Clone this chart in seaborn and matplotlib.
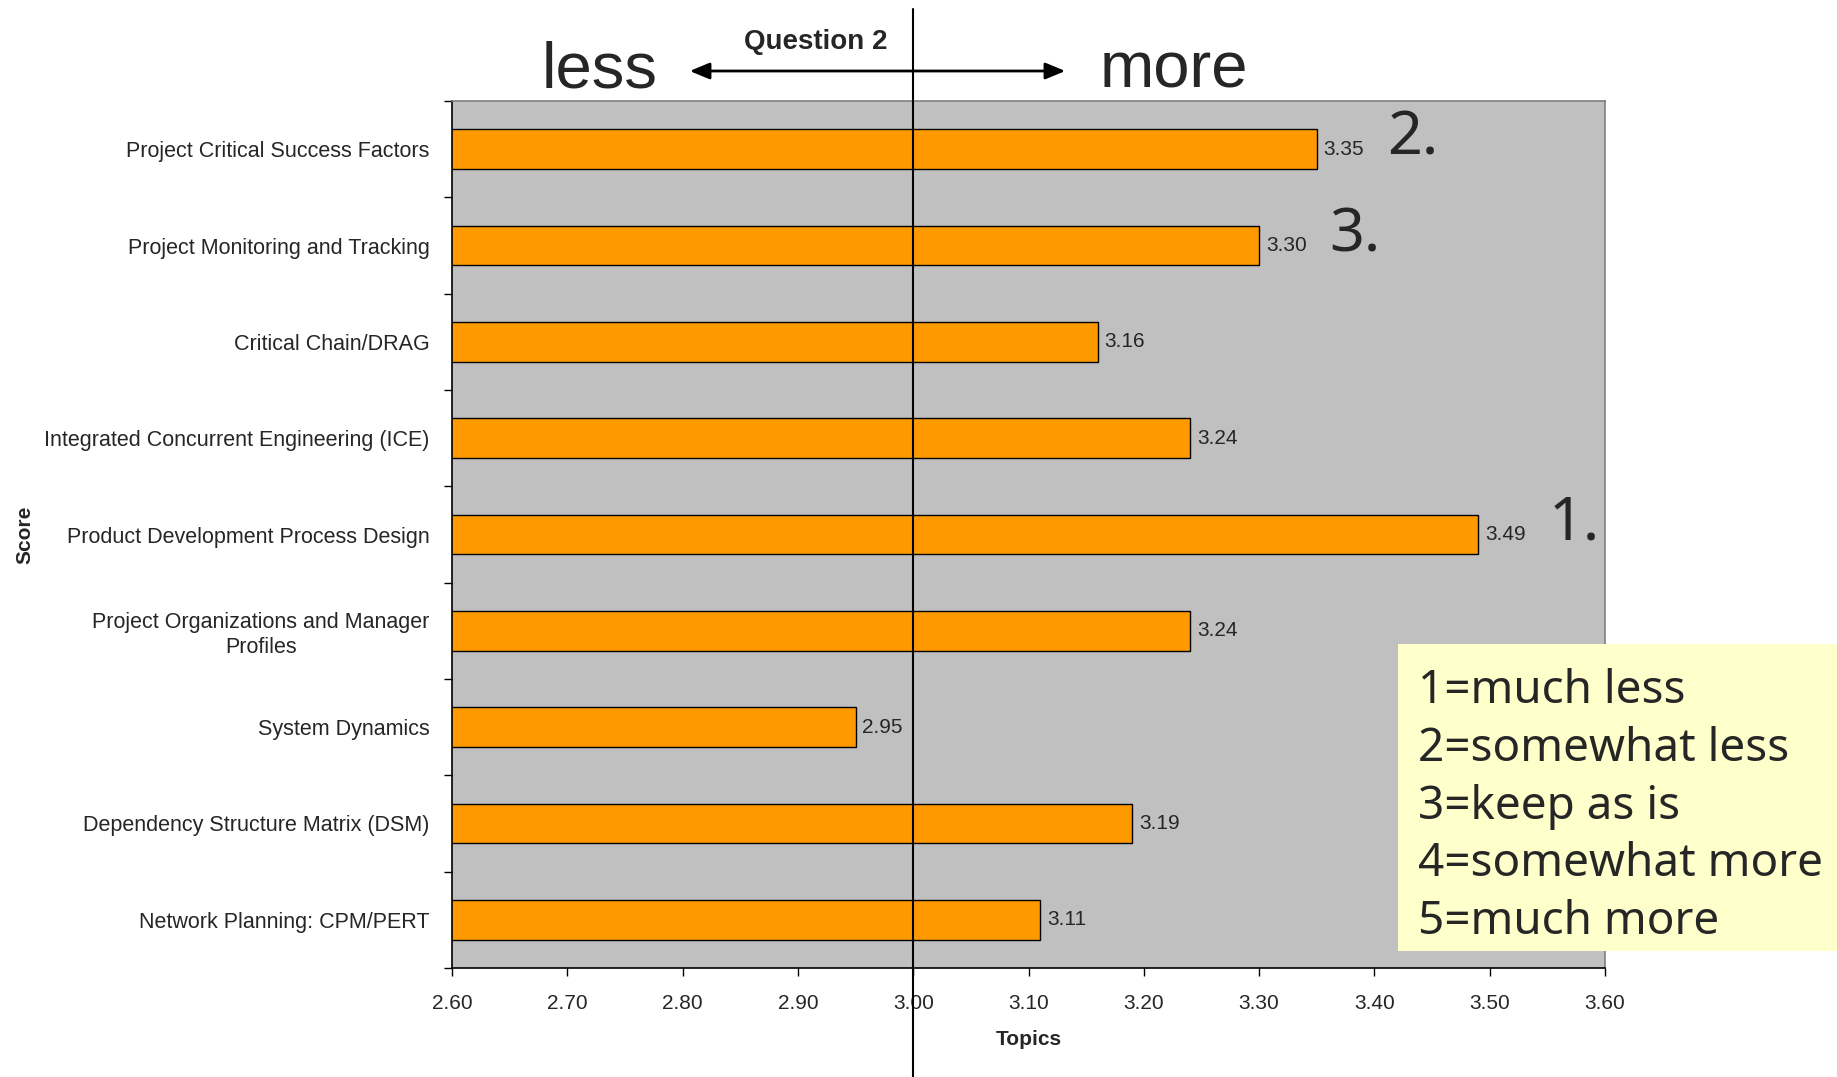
import matplotlib
matplotlib.use("Agg")
import matplotlib.pyplot as plt
from matplotlib.patches import Rectangle, FancyArrowPatch
from matplotlib.ticker import FixedLocator
import seaborn as sns

# Survey results: average score per topic (Question 2)
topics = [
    "Project Critical Success Factors",
    "Project Monitoring and Tracking",
    "Critical Chain/DRAG",
    "Integrated Concurrent Engineering (ICE)",
    "Product Development Process Design",
    "Project Organizations and Manager\nProfiles",
    "System Dynamics",
    "Dependency Structure Matrix (DSM)",
    "Network Planning: CPM/PERT",
]
scores = [3.35, 3.30, 3.16, 3.24, 3.49, 3.24, 2.95, 3.19, 3.11]
ranks = ["2.", "3.", "", "", "1.", "", "", "", ""]
x_ticks = [2.60, 2.70, 2.80, 2.90, 3.00, 3.10, 3.20, 3.30, 3.40, 3.50, 3.60]
scale_lines = ["1=much less", "2=somewhat less", "3=keep as is",
               "4=somewhat more", "5=much more"]

sns.set_style("ticks")
plt.rcParams["font.family"] = ["Liberation Sans", "DejaVu Sans"]

W, H = 1837, 1077
fig = plt.figure(figsize=(W / 100, H / 100), dpi=100)
ax = fig.add_axes([452 / W, 1 - 968 / H, (1605 - 452) / W, (968 - 101) / H])
ax.set_facecolor("#C0C0C0")

sns.barplot(x=scores, y=topics, orient="h", color="#FF9900", saturation=1,
            edgecolor="black", linewidth=1, width=0.41, ax=ax)

ax.set_xlim(x_ticks[0], x_ticks[-1])
ax.set_ylim(len(topics) - 0.5, -0.5)
ax.set_xticks(x_ticks)
ax.set_xticklabels([f"{t:.2f}" for t in x_ticks], fontsize=15)
ax.tick_params(axis="x", length=6, width=1, color="black", pad=13, direction="out")

# category labels without tick marks, boundary ticks between categories
ax.tick_params(axis="y", which="major", length=0, pad=16, labelsize=15.5)
ax.yaxis.set_minor_locator(FixedLocator([i - 0.5 for i in range(len(topics) + 1)]))
ax.tick_params(axis="y", which="minor", length=6, width=1, color="black", direction="out")
for lbl in ax.get_yticklabels():
    lbl.set_multialignment("center")

for side in ["left", "bottom"]:
    ax.spines[side].set_color("black")
    ax.spines[side].set_linewidth(1.2)
for side in ["top", "right"]:
    ax.spines[side].set_visible(True)
    ax.spines[side].set_color("#808080")
    ax.spines[side].set_linewidth(1.2)

ax.set_xlabel("Topics", fontsize=15, fontweight="bold")
ax.set_ylabel("Score", fontsize=15, fontweight="bold")
ax.xaxis.set_label_coords(0.5, -0.071)
ax.yaxis.set_label_coords(-0.362, 0.5)

# value labels at the bar ends
ax.bar_label(ax.containers[0], fmt="%.2f", padding=5, fontsize=15)

# ranking marks next to the top three topics
for i, (val, rk) in enumerate(zip(scores, ranks)):
    if rk:
        ax.annotate(rk, xy=(val, i), xytext=(70, 10), textcoords="offset pixels",
                    ha="left", va="center", fontsize=44,
                    family=["Noto Sans", "DejaVu Sans"])

# neutral reference line at 3.00, running over the whole height
ax.axvline(3.0, ymin=-0.126, ymax=1.106, color="black", lw=1.5,
           clip_on=False, zorder=10)

# header: less <-> more
narrow = ["Liberation Sans Narrow", "Liberation Sans", "DejaVu Sans"]
fig.text(600 / W, 1 - 87 / H, "less", fontsize=47, ha="center",
         va="baseline", family=narrow, stretch="condensed")
fig.text(1174 / W, 1 - 87 / H, "more", fontsize=47, ha="center",
         va="baseline", family=narrow, stretch="condensed")
fig.text(816 / W, 1 - 49 / H, "Question 2", fontsize=20, fontweight="bold",
         ha="center", va="baseline", family=narrow, stretch="condensed")
fig.patches.append(FancyArrowPatch((687 / W, 1 - 71 / H), (1068 / W, 1 - 71 / H),
                                   transform=fig.transFigure,
                                   arrowstyle="<|-|>,head_length=12,head_width=5",
                                   color="black", lw=2, mutation_scale=1))

# rating scale box
fig.patches.append(Rectangle((1398 / W, 1 - 951 / H), (W - 1398) / W, (951 - 644) / H,
                             transform=fig.transFigure, facecolor="#FFFFCC",
                             edgecolor="none", zorder=20))
for k, line in enumerate(scale_lines):
    fig.text(1418 / W, 1 - (703 + 57.8 * k) / H, line, fontsize=33,
             ha="left", va="baseline", family=["Noto Sans", "DejaVu Sans"],
             zorder=21)

fig.savefig("out.png", dpi=100, facecolor="white")
